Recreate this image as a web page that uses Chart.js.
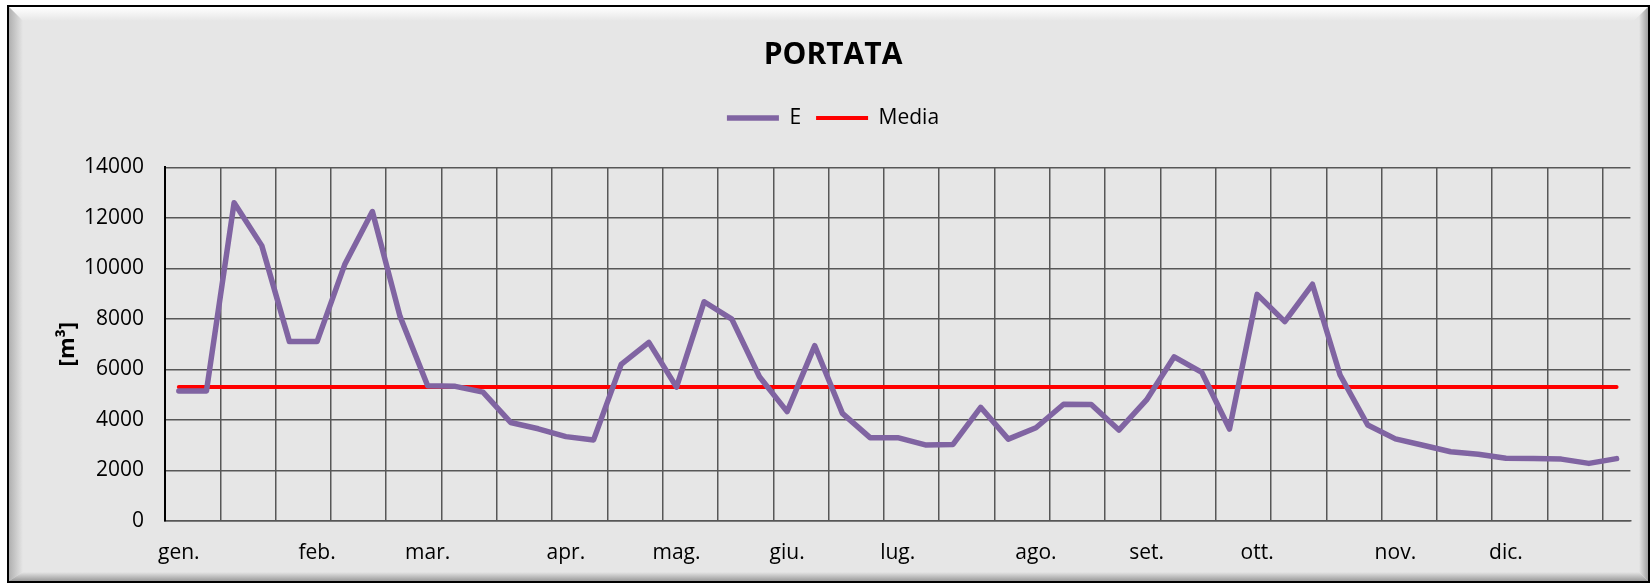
<!DOCTYPE html>
<html lang="it">
<head>
<meta charset="utf-8">
<title>PORTATA</title>
<script src="https://cdn.jsdelivr.net/npm/chart.js@4.4.1/dist/chart.umd.min.js"></script>
<style>
    html, body { margin: 0; padding: 0; background: #ffffff; }
    #grafico { display: block; }
</style>
</head>
<body>
<canvas id="grafico" width="1650" height="583"></canvas>
<script>
// settimane dell'anno: etichetta solo alla prima settimana di ogni mese
const settimane = [
    "gen.", "", "", "", "",
    "feb.", "", "", "",
    "mar.", "", "", "", "",
    "apr.", "", "", "",
    "mag.", "", "", "",
    "giu.", "", "", "",
    "lug.", "", "", "", "",
    "ago.", "", "", "",
    "set.", "", "", "",
    "ott.", "", "", "", "",
    "nov.", "", "", "",
    "dic.", "", "", "", ""
];

// portata settimanale [m3]
const portataE = [
    5150, 5150, 12600, 10900, 7100, 7100, 10150, 12250, 8100, 5350,
    5330, 5100, 3900, 3650, 3340, 3210, 6200, 7070, 5300, 8680,
    7990, 5710, 4330, 6940, 4260, 3300, 3300, 3010, 3030, 4500,
    3240, 3690, 4620, 4610, 3600, 4790, 6500, 5880, 3640, 8970,
    7890, 9370, 5780, 3800, 3250, 3000, 2740, 2640, 2480, 2470,
    2450, 2280, 2470
];

const valoreMedia = 5300;
const portataMedia = settimane.map(() => valoreMedia);

const tickY = [0, 2000, 4000, 6000, 8000, 10000, 12000, 14000];

const coloreGriglia = "#575757";
const font = "'Open Sans', 'DejaVu Sans', sans-serif";

// cornice grigia in rilievo come nel grafico originale
const cornice = {
    id: "cornice",
    beforeDraw(chart) {
        const ctx = chart.ctx;
        const w = chart.width;
        const h = chart.height;
        ctx.save();
        ctx.fillStyle = "#ffffff";
        ctx.fillRect(0, 0, w, h);
        ctx.fillStyle = "#000000";
        ctx.fillRect(7, 5, w - 7, h - 5);
        ctx.fillStyle = "#e6e6e6";
        ctx.fillRect(9, 7, w - 11, h - 9);

        let g = ctx.createLinearGradient(0, 7, 0, 21);
        g.addColorStop(0, "#ffffff");
        g.addColorStop(1, "#e6e6e6");
        ctx.fillStyle = g;
        ctx.beginPath();
        ctx.moveTo(9, 7); ctx.lineTo(w - 2, 7); ctx.lineTo(w - 16, 21); ctx.lineTo(23, 21);
        ctx.fill();

        g = ctx.createLinearGradient(9, 0, 23, 0);
        g.addColorStop(0, "#b0b0b0");
        g.addColorStop(1, "#e6e6e6");
        ctx.fillStyle = g;
        ctx.beginPath();
        ctx.moveTo(9, 7); ctx.lineTo(23, 21); ctx.lineTo(23, h - 11); ctx.lineTo(9, h - 2);
        ctx.fill();

        g = ctx.createLinearGradient(0, h - 11, 0, h - 2);
        g.addColorStop(0, "#e6e6e6");
        g.addColorStop(1, "#9a9a9a");
        ctx.fillStyle = g;
        ctx.beginPath();
        ctx.moveTo(9, h - 2); ctx.lineTo(23, h - 11); ctx.lineTo(w - 11, h - 11); ctx.lineTo(w - 2, h - 2);
        ctx.fill();

        g = ctx.createLinearGradient(w - 11, 0, w - 2, 0);
        g.addColorStop(0, "#e6e6e6");
        g.addColorStop(1, "#a0a0a0");
        ctx.fillStyle = g;
        ctx.beginPath();
        ctx.moveTo(w - 2, 7); ctx.lineTo(w - 16, 21); ctx.lineTo(w - 11, h - 11); ctx.lineTo(w - 2, h - 2);
        ctx.fill();
        ctx.restore();
    }
};

const grafico = document.getElementById("grafico");

new Chart(grafico, {
    type: "line",
    data: {
        labels: settimane,
        datasets: [
            {
                label: "E",
                data: portataE,
                borderColor: "#8064a2",
                backgroundColor: "#8064a2",
                borderWidth: 5.5,
                borderJoinStyle: "round",
                borderCapStyle: "round",
                pointRadius: 0,
                tension: 0
            },
            {
                label: "Media",
                data: portataMedia,
                borderColor: "#ff0000",
                backgroundColor: "#ff0000",
                borderWidth: 4,
                borderCapStyle: "round",
                pointRadius: 0,
                tension: 0
            }
        ]
    },
    options: {
        responsive: false,
        animation: false,
        layout: {
            padding: { left: 35.6, right: 19.6, top: 0, bottom: 0 }
        },
        scales: {
            x: {
                offset: true,
                afterFit: (scala) => { scala.height = 62; },
                grid: {
                    offset: true,
                    drawTicks: false,
                    lineWidth: 1.5,
                    color: (c) => (c.index % 2 === 0 ? coloreGriglia : "rgba(0,0,0,0)")
                },
                border: { color: coloreGriglia, width: 1.5 },
                ticks: {
                    autoSkip: false,
                    maxRotation: 0,
                    minRotation: 0,
                    padding: 19,
                    color: "#000000",
                    font: { family: font, size: 21 }
                }
            },
            y: {
                min: 0,
                max: 14000,
                afterFit: (scala) => { scala.width = 129.4; },
                afterBuildTicks: (scala) => { scala.ticks = tickY.map(v => ({ value: v })); },
                grid: {
                    drawTicks: false,
                    lineWidth: 1.5,
                    color: coloreGriglia
                },
                border: { color: "#000000", width: 2 },
                ticks: {
                    padding: 21,
                    color: "#000000",
                    font: { family: font, size: 21 },
                    callback: (v) => String(v)
                },
                title: {
                    display: true,
                    text: "[m³]",
                    color: "#000000",
                    padding: { top: 19, bottom: 0 },
                    font: { family: font, size: 22, weight: "bold" }
                }
            }
        },
        plugins: {
            title: {
                display: true,
                text: "PORTATA",
                color: "#000000",
                padding: { top: 37, bottom: 19.6 },
                font: { family: font, size: 30, weight: "bold" }
            },
            subtitle: {
                display: true,
                text: "",
                weight: 500,
                padding: { top: 10, bottom: 6.7 },
                font: { family: font, size: 12, lineHeight: 1 }
            },
            legend: {
                display: true,
                position: "top",
                labels: {
                    usePointStyle: true,
                    pointStyle: "line",
                    pointStyleWidth: 52,
                    padding: 15,
                    color: "#000000",
                    font: { family: font, size: 21 }
                }
            },
            tooltip: { enabled: false }
        }
    },
    plugins: [cornice]
});
</script>
</body>
</html>
